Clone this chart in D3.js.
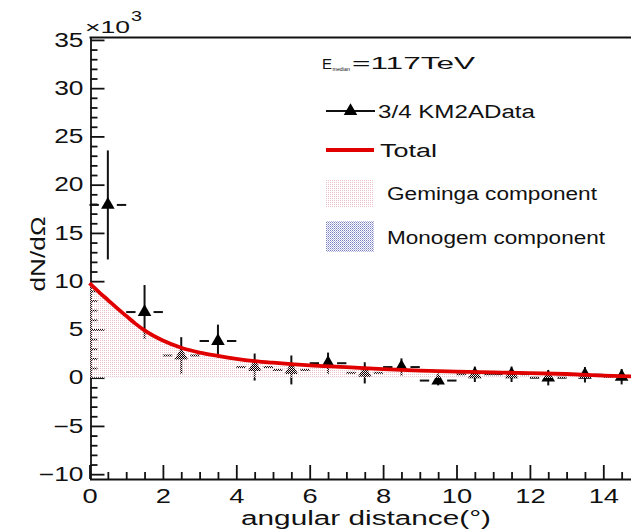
<!DOCTYPE html>
<html><head><meta charset="utf-8">
<script src="https://cdn.jsdelivr.net/npm/d3@7"></script>
<style>
body{margin:0;background:#fff}
svg{display:block}
text{font-family:"Liberation Sans",Arial,Helvetica,sans-serif;fill:#111}
</style>
</head><body>
<svg id="c" width="631" height="532"></svg>
<script>
// ---- data ----
const binCenters = [0.5,1.5,2.5,3.5,4.5,5.5,6.5,7.5,8.5,9.5,10.5,11.5,12.5,13.5,14.5];
const dataValues = [17.9,6.8,2.3,3.8,1.1,0.8,1.5,0.5,1.1,-0.3,0.35,0.35,0.0,0.3,0.1];
const dataErrors = [5.65,2.8,1.9,1.7,1.4,1.5,1.1,1.1,0.9,0.5,0.8,0.8,0.8,0.8,0.8];
const binHalfWidth = 0.5;
const curveX = [0,0.25,0.5,0.75,1,1.25,1.5,2,2.5,3,3.5,4,4.5,5,6,7,8,9,10,11,12,13,14,15];
const totalValues = [9.8,8.9,8.05,7.2,6.4,5.6,4.9,3.85,3.1,2.6,2.25,1.95,1.72,1.55,1.28,1.1,0.88,0.72,0.62,0.54,0.47,0.38,0.22,0.1];
const gemingaValues = [9.6,8.7,7.85,7.0,6.2,5.4,4.7,3.65,2.9,2.4,2.05,1.75,1.52,1.35,1.08,0.9,0.68,0.52,0.42,0.34,0.27,0.2,0.1,0.05];
const monogemValues = [0.2,0.2,0.2,0.2,0.2,0.2,0.2,0.2,0.2,0.2,0.2,0.2,0.2,0.2,0.2,0.2,0.2,0.2,0.2,0.2,0.2,0.18,0.12,0.05];
const xMajorTicks = [0,2,4,6,8,10,12,14];
const xMinorTicks = [0.5,1,1.5,2.5,3,3.5,4.5,5,5.5,6.5,7,7.5,8.5,9,9.5,10.5,11,11.5,12.5,13,13.5,14.5];
const yMajorTicks = [-10,-5,0,5,10,15,20,25,30,35];
const yMinorTicks = d3.range(-10,36,1).filter(v => v % 5 !== 0);
const energyLabel = ["E","median","=117TeV"];
const legendLabels = ["3/4 KM2AData","Total","Geminga component","Monogem component"];
const xTitle = "angular distance(°)";
const yTitle = "dN/dΩ";
const yExponent = ["×10","3"];

// ---- layout ----
const svg = d3.select("#c");
const x = d3.scaleLinear([0,15],[89.5,640]);
const y = d3.scaleLinear([-10.5,35.25],[479,37.5]);

function stretch(sel, s){
  sel.each(function(){
    const t = d3.select(this);
    const ax = +t.attr("x") || 0;
    t.attr("transform", `translate(${ax},0) scale(${s},1) translate(${-ax},0)`);
  });
}

// patterns
const defs = svg.append("defs");
const gp = defs.append("pattern").attr("id","gemPat").attr("patternUnits","userSpaceOnUse")
  .attr("width",2).attr("height",2);
gp.append("rect").attr("x",0).attr("y",0).attr("width",1).attr("height",1).attr("fill","#eec0c8");
gp.append("rect").attr("x",1).attr("y",1).attr("width",1).attr("height",1).attr("fill","#ffffff");
const mp = defs.append("pattern").attr("id","monPat").attr("patternUnits","userSpaceOnUse")
  .attr("width",2).attr("height",2);
mp.append("rect").attr("x",0).attr("y",0).attr("width",1).attr("height",1).attr("fill","#7880c0");
mp.append("rect").attr("x",1).attr("y",1).attr("width",1).attr("height",1).attr("fill","#b0b4de");

// axes
const axW = 1.8;
const gY = svg.append("g").attr("transform",`translate(${x(0)+1},0)`);
gY.call(d3.axisLeft(y).tickValues(yMajorTicks).tickSize(-14).tickSizeOuter(0).tickPadding(7));
gY.append("g").call(d3.axisLeft(y).tickValues(yMinorTicks).tickSize(-7).tickSizeOuter(0).tickFormat(""))
  .select(".domain").remove();
gY.selectAll("line,path").attr("stroke","#111").attr("stroke-width",axW);
gY.selectAll("text").attr("font-size",19.5).attr("fill","#111").call(stretch,1.35);

const gX = svg.append("g").attr("transform",`translate(0,${y(-10.5)})`);
gX.call(d3.axisBottom(x).tickValues(xMajorTicks).tickSize(-14).tickSizeOuter(0).tickPadding(9));
gX.append("g").call(d3.axisBottom(x).tickValues(xMinorTicks).tickSize(-7).tickSizeOuter(0).tickFormat(""))
  .select(".domain").remove();
gX.selectAll("line,path").attr("stroke","#111").attr("stroke-width",axW);
gX.selectAll("text").attr("font-size",21).attr("fill","#111").call(stretch,1.3);

// top frame line
svg.append("line").attr("x1",x(0)).attr("x2",631).attr("y1",y(35.25)).attr("y2",y(35.25))
  .attr("stroke","#111").attr("stroke-width",axW);

// exponent
svg.append("text").attr("x",85).attr("y",33).attr("font-size",17)
  .attr("textLength",45).attr("lengthAdjust","spacingAndGlyphs").text(yExponent[0]);
svg.append("text").attr("x",131).attr("y",21).attr("font-size",14)
  .attr("textLength",11).attr("lengthAdjust","spacingAndGlyphs").text(yExponent[1]);

// axis titles
svg.append("text").attr("x",366).attr("y",525).attr("font-size",20).attr("text-anchor","middle")
  .attr("textLength",250).attr("lengthAdjust","spacingAndGlyphs").text(xTitle);
svg.append("text").attr("transform","translate(45,254) rotate(-90)").attr("font-size",20)
  .attr("text-anchor","middle").attr("textLength",75).attr("lengthAdjust","spacingAndGlyphs").text(yTitle);

// data points
const pts = binCenters.map((c,i)=>({c, v:dataValues[i], e:dataErrors[i]}));
const gD = svg.append("g");
const gap = 9;
gD.selectAll(".ev").data(pts).join("line")
  .attr("x1",d=>x(d.c)).attr("x2",d=>x(d.c))
  .attr("y1",d=>y(d.v+d.e)).attr("y2",d=>y(d.v-d.e))
  .attr("stroke","#111").attr("stroke-width",2);
gD.selectAll(".hl").data(pts).join("line")
  .attr("x1",d=>x(d.c-binHalfWidth)).attr("x2",d=>x(d.c)-gap)
  .attr("y1",d=>y(d.v)).attr("y2",d=>y(d.v))
  .attr("stroke","#111").attr("stroke-width",2);
gD.selectAll(".hr").data(pts).join("line")
  .attr("x1",d=>x(d.c)+gap).attr("x2",d=>x(d.c+binHalfWidth))
  .attr("y1",d=>y(d.v)).attr("y2",d=>y(d.v))
  .attr("stroke","#111").attr("stroke-width",2);
const tri = d3.symbol(d3.symbolTriangle, 80);
gD.selectAll(".m").data(pts).join("path")
  .attr("d",tri).attr("transform",d=>`translate(${x(d.c)},${y(d.v)})`)
  .attr("fill","#000");

// component fills
const cpts = curveX.map((cx,i)=>({cx, t:totalValues[i], g:gemingaValues[i], m:monogemValues[i]}));
const areaM = d3.area().x(d=>x(d.cx)).y0(y(0)).y1(d=>y(d.m)).curve(d3.curveMonotoneX);
const areaG = d3.area().x(d=>x(d.cx)).y0(y(0)).y1(d=>y(d.g)).curve(d3.curveMonotoneX);
svg.append("path").datum(cpts).attr("d",areaM).attr("fill","url(#monPat)");
svg.append("path").datum(cpts).attr("d",areaG).attr("fill","url(#gemPat)");

// total line
const lineT = d3.line().x(d=>x(d.cx)).y(d=>y(d.t)).curve(d3.curveMonotoneX);
svg.append("path").datum(cpts).attr("d",lineT).attr("fill","none")
  .attr("stroke","#e00000").attr("stroke-width",3.8);

// legend
const L = svg.append("g");
L.append("text").attr("x",322).attr("y",69).attr("font-size",15).text(energyLabel[0]);
L.append("text").attr("x",332.5).attr("y",71).attr("font-size",5.3).text(energyLabel[1]);
L.append("text").attr("x",352).attr("y",69).attr("font-size",17)
  .attr("textLength",123).attr("lengthAdjust","spacingAndGlyphs").text(energyLabel[2]);

L.append("line").attr("x1",326).attr("x2",375).attr("y1",111).attr("y2",111)
  .attr("stroke","#111").attr("stroke-width",2);
L.append("path").attr("d",tri).attr("transform","translate(350.5,111)").attr("fill","#000");
L.append("line").attr("x1",326).attr("x2",374).attr("y1",150).attr("y2",150)
  .attr("stroke","#e00000").attr("stroke-width",3.8);
L.append("rect").attr("x",326).attr("y",179).attr("width",48).attr("height",29).attr("fill","url(#gemPat)");
L.append("rect").attr("x",326).attr("y",221).attr("width",48).attr("height",31).attr("fill","url(#monPat)");

const legPos = [[378,117.5,157],[380,156.5,57],[387,199.5,210],[387,243.5,218]];
legendLabels.forEach((s,i)=>{
  L.append("text").attr("x",legPos[i][0]).attr("y",legPos[i][1]).attr("font-size",18)
    .attr("textLength",legPos[i][2]).attr("lengthAdjust","spacingAndGlyphs").text(s);
});
</script>
</body></html>
